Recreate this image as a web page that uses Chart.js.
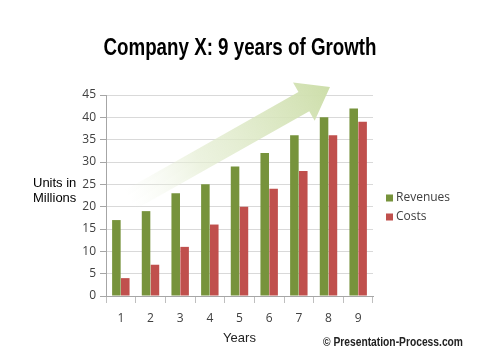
<!DOCTYPE html>
<html>
<head>
<meta charset="utf-8">
<script src="https://cdn.jsdelivr.net/npm/chart.js@4/dist/chart.umd.min.js"></script>
<style>
html,body{margin:0;padding:0;background:#fff;}
#wrap{width:480px;height:361px;position:relative;}
</style>
</head>
<body>
<div id="wrap"><canvas id="c" width="480" height="361"></canvas></div>
<script>
const categories = ["1","2","3","4","5","6","7","8","9"];
const revenues = [17,19,23,25,29,32,36,40,42];
const costs = [4,7,11,16,20,24,28,36,39];
const seriesNames = ["Revenues","Costs"];
const yTitleLines = ["Units in","Millions"];
const xTitle = "Years";
const chartTitle = "Company X: 9 years of Growth";
const credit = "\u00A9 Presentation-Process.com";

const GREEN = "#77933C";
const RED = "#C0504D";

const arrowPlugin = {
  id: 'arrow',
  beforeDatasetsDraw(chart) {
    const x = chart.scales.x, y = chart.scales.y, ctx = chart.ctx;
    const tx = x.getPixelForValue(0.3), ty = y.getPixelForValue(21.5);
    const hx = x.getPixelForValue(7.05), hy = y.getPixelForValue(46.8);
    const dx = hx - tx, dy = hy - ty, L = Math.hypot(dx, dy);
    const ux = dx / L, uy = dy / L, px = -uy, py = ux;
    const sw = 11, hw = 22, hl = 30;
    const bx = hx - ux * hl, by = hy - uy * hl;
    ctx.save();
    const g = ctx.createLinearGradient(tx, ty, hx, hy);
    g.addColorStop(0, 'rgba(240,245,230,0)');
    g.addColorStop(0.35, 'rgba(228,237,210,0.7)');
    g.addColorStop(1, 'rgba(205,222,170,1)');
    ctx.fillStyle = g;
    ctx.beginPath();
    ctx.moveTo(tx + px * sw, ty + py * sw);
    ctx.lineTo(bx + px * sw, by + py * sw);
    ctx.lineTo(bx + px * hw, by + py * hw);
    ctx.lineTo(hx, hy);
    ctx.lineTo(bx - px * hw, by - py * hw);
    ctx.lineTo(bx - px * sw, by - py * sw);
    ctx.lineTo(tx - px * sw, ty - py * sw);
    ctx.closePath();
    ctx.fill();
    ctx.restore();
  }
};

const extrasPlugin = {
  id: 'extras',
  afterDraw(chart) {
    const ctx = chart.ctx;
    ctx.save();
    // title
    ctx.fillStyle = '#000';
    ctx.font = 'bold 23px "Liberation Sans", Arial, sans-serif';
    ctx.textAlign = 'center';
    ctx.textBaseline = 'alphabetic';
    ctx.fillText(chartTitle, 240, 54.5, 273);
    // y title (horizontal)
    ctx.font = '13px "Liberation Sans", Arial, sans-serif';
    ctx.textAlign = 'left';
    ctx.textBaseline = 'middle';
    ctx.fillText(yTitleLines[0], 33, 183);
    ctx.fillText(yTitleLines[1], 33, 198);
    // legend
    ctx.font = '12px "Open Sans", "Liberation Sans", sans-serif';
    chart.data.datasets.forEach((ds, i) => {
      const cy = 198 + i * 19;
      ctx.fillStyle = ds.backgroundColor;
      ctx.fillRect(386, cy - 3.5, 7, 7);
      ctx.fillStyle = '#404040';
      ctx.fillText(ds.label, 396, cy);
    });
    // credit
    ctx.font = 'bold 12px "Liberation Sans", Arial, sans-serif';
    ctx.fillStyle = '#222';
    ctx.textBaseline = 'alphabetic';
    ctx.fillText(credit, 323, 346, 140);
    ctx.restore();
  }
};

new Chart(document.getElementById('c'), {
  type: 'bar',
  data: {
    labels: categories,
    datasets: [
      { label: seriesNames[0], data: revenues, backgroundColor: GREEN },
      { label: seriesNames[1], data: costs, backgroundColor: RED }
    ]
  },
  options: {
    responsive: false,
    animation: false,
    devicePixelRatio: 1,
    layout: { padding: { left: 61, right: 107, top: 95, bottom: 0 } },
    datasets: { bar: { categoryPercentage: 0.6, barPercentage: 0.96 } },
    plugins: {
      legend: { display: false },
      tooltip: { enabled: false },
      title: { display: false }
    },
    scales: {
      x: {
        grid: { drawOnChartArea: false, drawTicks: true, tickLength: 7, color: '#bfbfbf', offset: true },
        border: { color: '#a6a6a6' },
        ticks: { color: '#404040', font: { family: '"Open Sans", "Liberation Sans", sans-serif', size: 12 }, padding: 8, maxRotation: 0 },
        title: { display: true, text: xTitle, color: '#222', font: { family: '"Liberation Sans", Arial, sans-serif', size: 13 }, padding: { top: 0, bottom: 15 } },
        afterFit(s) { s.height = 65; }
      },
      y: {
        min: 0, max: 45,
        ticks: { stepSize: 5, color: '#404040', font: { family: '"Open Sans", "Liberation Sans", sans-serif', size: 12 }, padding: 4 },
        grid: { color: '#d9d9d9', tickLength: 6, tickColor: '#a6a6a6' },
        border: { color: '#a6a6a6' },
        afterFit(s) { s.width = 45; }
      }
    }
  },
  plugins: [arrowPlugin, extrasPlugin]
});
</script>
</body>
</html>
